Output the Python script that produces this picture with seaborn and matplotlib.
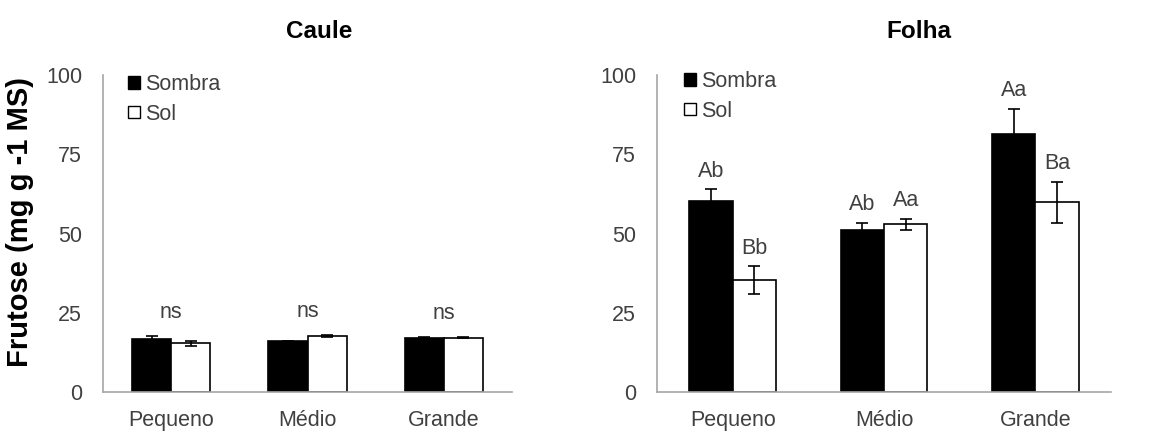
import matplotlib
matplotlib.use("Agg")
import matplotlib.pyplot as plt
from matplotlib.patches import Patch
import seaborn as sns
import pandas as pd

# Size classes and light treatments
sizes = ["Pequeno", "Médio", "Grande"]
treatments = ["Sombra", "Sol"]

# Fructose content (mg g-1 MS), mean and standard error
caule_sombra = [16.8, 16.0, 17.0]
caule_sombra_err = [0.9, 0.2, 0.3]
caule_sol = [15.3, 17.7, 17.1]
caule_sol_err = [0.7, 0.3, 0.1]

folha_sombra = [60.3, 51.2, 81.3]
folha_sombra_err = [3.6, 2.2, 7.9]
folha_sol = [35.3, 52.9, 59.9]
folha_sol_err = [4.3, 1.8, 6.5]

# Significance letters
caule_letters = ["ns", "ns", "ns"]
folha_sombra_letters = ["Ab", "Ab", "Aa"]
folha_sol_letters = ["Bb", "Aa", "Ba"]

yticks = [0, 25, 50, 75, 100]

sns.set_theme(style="white")
plt.rcParams["font.family"] = ["Liberation Sans", "DejaVu Sans"]

TXT = "#404040"
SPINE = "#a6a6a6"
FS = 15.5


def make_frame(sombra, sombra_err, sol, sol_err):
    return pd.DataFrame({
        "size": sizes * 2,
        "treatment": [treatments[0]] * 3 + [treatments[1]] * 3,
        "value": list(sombra) + list(sol),
        "err": list(sombra_err) + list(sol_err),
    })


def draw_panel(ax, df, title_x, title):
    sns.barplot(data=df, x="size", y="value", hue="treatment",
                order=sizes, hue_order=treatments,
                palette={"Sombra": "black", "Sol": "white"},
                edgecolor="black", linewidth=1.2, width=0.574, gap=0,
                errorbar=None, legend=False, ax=ax)
    # error bars at the bar centres
    bars = [p for p in ax.patches if p.get_width() > 0]
    centres = {}
    for i, t in enumerate(treatments):
        sub = df[df["treatment"] == t]
        xs = [bars[i * 3 + j].get_x() + bars[i * 3 + j].get_width() / 2 for j in range(3)]
        centres[t] = xs
        ax.errorbar(xs, sub["value"], yerr=sub["err"], fmt="none",
                    ecolor="black", elinewidth=1.2, capsize=4.2, capthick=1.2,
                    zorder=5)
    ax.set_ylim(0, 100)
    ax.set_xlim(-0.5, 2.5)
    ax.set_yticks(yticks)
    ax.set_xlabel("")
    ax.set_ylabel("")
    ax.tick_params(axis="both", length=0, labelsize=FS, labelcolor=TXT)
    ax.tick_params(axis="x", pad=13)
    ax.tick_params(axis="y", pad=15)
    for side in ["top", "right"]:
        ax.spines[side].set_visible(False)
    for side in ["left", "bottom"]:
        ax.spines[side].set_color(SPINE)
        ax.spines[side].set_linewidth(1.2)
    ax.figure.text(title_x, 0.928, title, ha="center", va="center",
                   fontsize=17.5, fontweight="bold", color="black")
    return centres


fig = plt.figure(figsize=(11.7, 4.32), dpi=100)
ax1 = fig.add_axes([103 / 1170, 40 / 432, 409 / 1170, 317 / 432])
ax2 = fig.add_axes([657 / 1170, 40 / 432, 454 / 1170, 317 / 432])

df_caule = make_frame(caule_sombra, caule_sombra_err, caule_sol, caule_sol_err)
df_folha = make_frame(folha_sombra, folha_sombra_err, folha_sol, folha_sol_err)

draw_panel(ax1, df_caule, 319 / 1170, "Caule")
c2 = draw_panel(ax2, df_folha, 919 / 1170, "Folha")

# "ns" over each stem group
for j in range(3):
    top = max(caule_sombra[j] + caule_sombra_err[j], caule_sol[j] + caule_sol_err[j])
    ax1.text(j, top + 4.0, caule_letters[j], ha="center", va="bottom",
             fontsize=FS, color=TXT)

# letters over each leaf bar
for j in range(3):
    ax2.text(c2["Sombra"][j], folha_sombra[j] + folha_sombra_err[j] + 2.5,
             folha_sombra_letters[j], ha="center", va="bottom", fontsize=FS, color=TXT)
    ax2.text(c2["Sol"][j], folha_sol[j] + folha_sol_err[j] + 2.5,
             folha_sol_letters[j], ha="center", va="bottom", fontsize=FS, color=TXT)

handles = [Patch(facecolor="black", edgecolor="black", linewidth=1.0),
           Patch(facecolor="white", edgecolor="black", linewidth=1.0)]
for ax, anchor in [(ax1, (128 / 1170, 1 - 74 / 432)), (ax2, (684 / 1170, 1 - 71 / 432))]:
    ax.legend(handles, treatments, loc="upper left", bbox_to_anchor=anchor,
              bbox_transform=fig.transFigure, frameon=False, fontsize=FS,
              handlelength=0.55, handleheight=0.55, handletextpad=0.25,
              labelspacing=0.4, borderpad=0, borderaxespad=0, labelcolor=TXT)

ax1.set_ylabel("Frutose (mg g -1 MS)", fontsize=21, fontweight="bold", color="black")
ax1.yaxis.set_label_coords(-0.168, 0.536)

fig.savefig("out.png", dpi=100)
